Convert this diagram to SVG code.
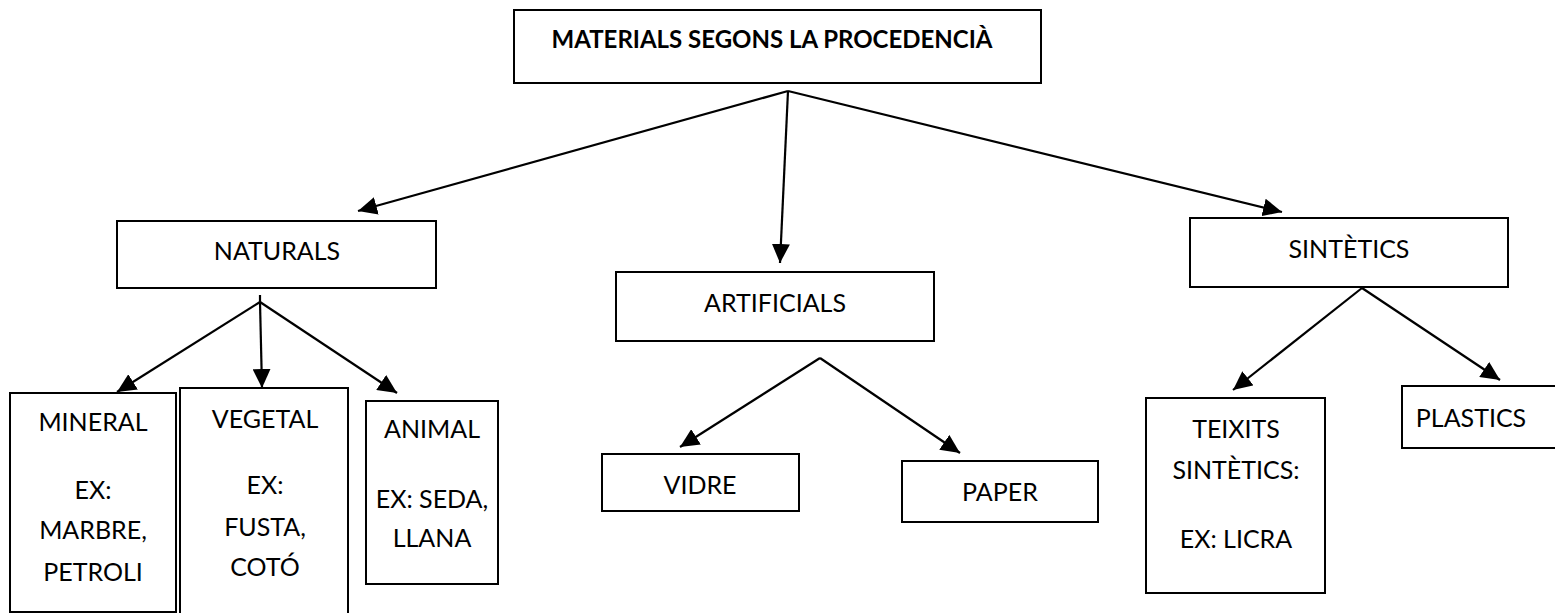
<svg xmlns="http://www.w3.org/2000/svg" width="1555" height="613" viewBox="0 0 1555 613">
<style>
.box{fill:#fff;stroke:#000;stroke-width:2}
.t{font-family:Lato,"Liberation Sans",sans-serif;font-size:25px;fill:#000;text-anchor:middle}
.b{font-weight:bold;font-size:24px}
.c{stroke:#000;stroke-width:2.2;fill:none}
</style>
<defs>
<marker id="ah" markerUnits="userSpaceOnUse" markerWidth="20" markerHeight="18" refX="19" refY="9" orient="auto">
<path d="M0,0 L19,9 L0,18 z" fill="#000"/>
</marker>
</defs>
<rect width="1555" height="613" fill="#fff"/>
<g id="root"><rect class="box" x="514" y="10" width="527" height="73"/><text class="t b" x="772" y="48">MATERIALS SEGONS LA PROCEDENCIÀ</text></g>
<g id="naturals"><rect class="box" x="117" y="221" width="319" height="67"/><text class="t" x="277" y="260">NATURALS</text></g>
<g id="artificials"><rect class="box" x="616" y="272" width="318" height="69"/><text class="t" x="775" y="312">ARTIFICIALS</text></g>
<g id="sintetics"><rect class="box" x="1190" y="218" width="318" height="69"/><text class="t" x="1349" y="258">SINTÈTICS</text></g>
<g id="mineral"><rect class="box" x="10" y="393" width="166" height="219"/><text class="t" x="93" y="431">MINERAL</text><text class="t" x="93" y="499">EX:</text><text class="t" x="93" y="539">MARBRE,</text><text class="t" x="93" y="581">PETROLI</text></g>
<g id="vegetal"><rect class="box" x="180" y="388" width="168" height="230"/><text class="t" x="265" y="428">VEGETAL</text><text class="t" x="265" y="494">EX:</text><text class="t" x="265" y="536">FUSTA,</text><text class="t" x="265" y="576">COTÓ</text></g>
<g id="animal"><rect class="box" x="366" y="401" width="132" height="183"/><text class="t" x="432" y="438">ANIMAL</text><text class="t" x="432" y="508">EX: SEDA,</text><text class="t" x="432" y="547">LLANA</text></g>
<g id="vidre"><rect class="box" x="602" y="454" width="197" height="57"/><text class="t" x="700" y="494">VIDRE</text></g>
<g id="paper"><rect class="box" x="902" y="461" width="196" height="61"/><text class="t" x="1000" y="501">PAPER</text></g>
<g id="teixits"><rect class="box" x="1146" y="398" width="179" height="195"/><text class="t" x="1236" y="438">TEIXITS</text><text class="t" x="1236" y="479">SINTÈTICS:</text><text class="t" x="1236" y="548">EX: LICRA</text></g>
<g id="plastics"><rect class="box" x="1402" y="386" width="160" height="62"/><text class="t" x="1471" y="427">PLASTICS</text></g>
<g id="connectors">
<line class="c" x1="788" y1="91" x2="358" y2="211" marker-end="url(#ah)"/>
<line class="c" x1="788" y1="91" x2="780" y2="263" marker-end="url(#ah)"/>
<line class="c" x1="788" y1="91" x2="1282" y2="212" marker-end="url(#ah)"/>
<line class="c" x1="260" y1="295" x2="260" y2="302"/>
<line class="c" x1="260" y1="302" x2="117" y2="392" marker-end="url(#ah)"/>
<line class="c" x1="260" y1="302" x2="262" y2="388" marker-end="url(#ah)"/>
<line class="c" x1="260" y1="302" x2="397" y2="393" marker-end="url(#ah)"/>
<line class="c" x1="820" y1="358" x2="680" y2="447" marker-end="url(#ah)"/>
<line class="c" x1="820" y1="358" x2="960" y2="453" marker-end="url(#ah)"/>
<line class="c" x1="1362" y1="288" x2="1233" y2="390" marker-end="url(#ah)"/>
<line class="c" x1="1362" y1="288" x2="1500" y2="380" marker-end="url(#ah)"/>
</g>
</svg>
